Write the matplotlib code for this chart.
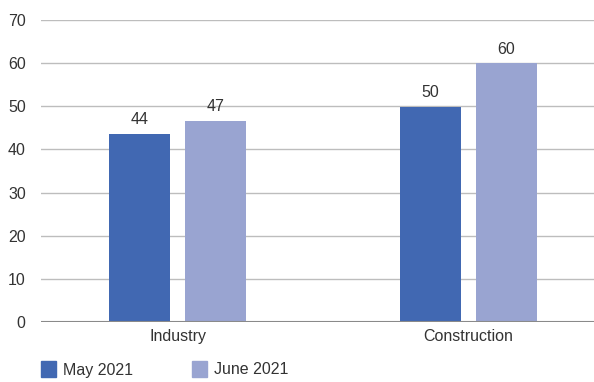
import matplotlib.pyplot as plt
import numpy as np
from matplotlib.patches import Rectangle

categories = ['Industry', 'Construction']
may_2021 = [43.6, 49.9]
june_2021 = [46.7, 60.0]
series_names = ['May 2021', 'June 2021']
colors = ['#4168b2', '#99a4d1']

plt.rcParams['font.family'] = ['Liberation Sans', 'DejaVu Sans']
fs = 11.5

fig = plt.figure(figsize=(5.94, 3.82), dpi=100)
ax = fig.add_axes([41 / 594, 1 - 322 / 382, 553 / 594, 302 / 382])

x = np.arange(len(categories))
w = 0.21
off = 0.13
b1 = ax.bar(x - off, may_2021, w, color=colors[0], zorder=3)
b2 = ax.bar(x + off, june_2021, w, color=colors[1], zorder=3)

for bars, vals in ((b1, may_2021), (b2, june_2021)):
    for r, v in zip(bars, vals):
        ax.text(r.get_x() + r.get_width() / 2, v + 1.5, f'{v:.0f}',
                ha='center', va='bottom', fontsize=fs, color='#333333')

ax.set_xlim(-0.469, 1.431)
ax.set_ylim(0, 70)
ax.set_yticks(range(0, 71, 10))
ax.yaxis.grid(True, color='#bdbdbd', linewidth=1, zorder=0)
ax.axhline(0, color='#8a8a8a', linewidth=1.5, zorder=4)
for s in ax.spines.values():
    s.set_visible(False)
ax.tick_params(axis='both', length=0, labelsize=fs, labelcolor='#333333')
ax.tick_params(axis='y', pad=11)
ax.tick_params(axis='x', pad=5)
ax.set_xticks(x)
ax.set_xticklabels(categories)

# legend along the bottom edge
for i, (name, c) in enumerate(zip(series_names, colors)):
    x0 = [41, 192][i]
    fig.patches.append(Rectangle((x0 / 594, 1 - 377 / 382), 15 / 594, 16 / 382,
                                 transform=fig.transFigure, color=c))
    fig.text((x0 + 22) / 594, 1 - 370 / 382, name, va='center', ha='left',
             fontsize=fs, color='#333333')

fig.savefig('out.png', dpi=100)
